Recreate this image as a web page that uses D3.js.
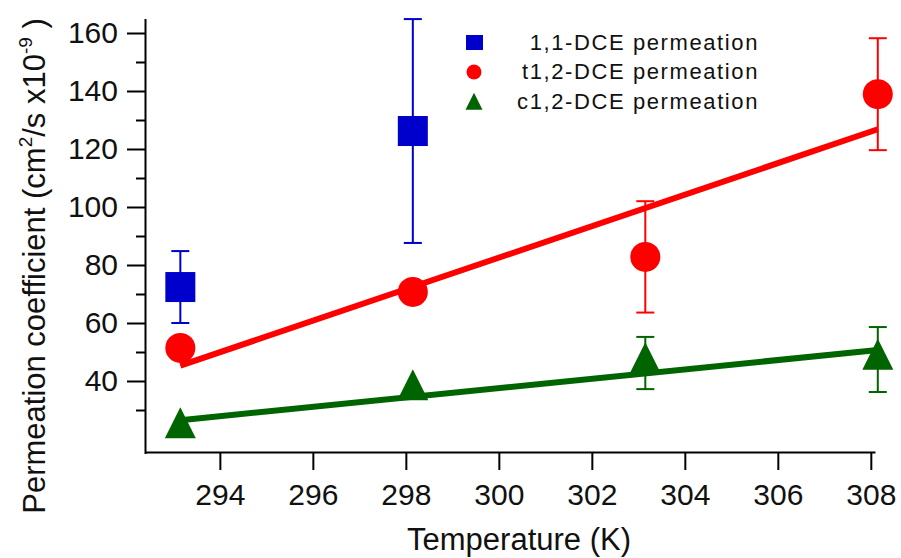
<!DOCTYPE html>
<html lang="en">
  <head>
    <meta charset="UTF-8" />
    <title>Permeation coefficient</title>
    <style>
      body { margin: 0; background: #fff; }
      svg { display: block; font-family: "Liberation Sans", Arial, sans-serif; }
      .axis path, .axis line { stroke: #000; stroke-width: 2; }
      .axis text { fill: #111; font-size: 30px; }
      .fit { fill: none; stroke-width: 6; }
      .err { stroke-width: 2; }
    </style>
  </head>
  <body>
    <script src="https://d3js.org/d3.v7.min.js"></script>
    <script>
      // temperatures (K)
      const temps = [293.15, 298.15, 303.15, 308.15];

      // 1,1-DCE (only two temperatures)
      const dce11Temps = [293.15, 298.15];
      const dce11 = [72.4, 126.2];
      const dce11Err = [12.4, 38.6];

      // t1,2-DCE
      const t12 = [51.4, 70.7, 82.8, 138.9];
      const t12Err = [0, 0, 19.2, 19.3];

      // c1,2-DCE
      const c12 = [23.8, 36.9, 46.2, 47.4];
      const c12Err = [0, 0, 9.0, 11.2];

      // linear fits
      const fitTemps = [293.15, 308.15];
      const t12Fit = [45.3, 126.8];
      const c12Fit = [26.5, 50.7];

      const xTicks = [294, 296, 298, 300, 302, 304, 306, 308];
      const yTicks = [40, 60, 80, 100, 120, 140, 160];
      const yMinor = [30, 50, 70, 90, 110, 130, 150];

      const legendNames = ["1,1-DCE permeation", "t1,2-DCE permeation", "c1,2-DCE permeation"];

      const blue = "#0000cc", red = "#ff0000", green = "#006400";

      const width = 901, height = 558;
      const svg = d3.select("body").append("svg")
        .attr("width", width).attr("height", height);

      const x = d3.scaleLinear().domain([292.39, 308.09]).range([145, 875]);
      const y = d3.scaleLinear().domain([15, 165]).range([453.5, 18.5]);

      // axes
      svg.append("g")
        .attr("class", "axis")
        .attr("transform", "translate(0,452)")
        .call(d3.axisBottom(x).tickValues(xTicks).tickSize(18).tickSizeOuter(0).tickPadding(14).tickFormat(d3.format("d")));

      svg.append("g")
        .attr("class", "axis")
        .attr("transform", "translate(145,0)")
        .call(d3.axisLeft(y).tickValues(yTicks).tickSize(18).tickSizeOuter(0).tickPadding(9).tickFormat(d3.format("d")));

      svg.append("g")
        .attr("class", "axis")
        .attr("transform", "translate(145,0)")
        .call(d3.axisLeft(y).tickValues(yMinor).tickSize(9).tickSizeOuter(0).tickFormat(""))
        .select(".domain").remove();

      // axis titles
      svg.append("text")
        .attr("x", 519).attr("y", 550)
        .attr("text-anchor", "middle")
        .style("font-size", "31px").style("fill", "#111")
        .text("Temperature (K)");

      const yt = svg.append("text")
        .attr("transform", "translate(45,266) rotate(-90)")
        .attr("text-anchor", "middle")
        .style("font-size", "31px").style("fill", "#111");
      yt.append("tspan").text("Permeation coefficient (cm");
      yt.append("tspan").attr("dy", -13).style("font-size", "19px").text("2");
      yt.append("tspan").attr("dy", 13).text("/s x10");
      yt.append("tspan").attr("dy", -13).style("font-size", "19px").text("-9");
      yt.append("tspan").attr("dy", 13).text(" )");

      // fit lines
      const line = d3.line().x(d => x(d[0])).y(d => y(d[1]));
      svg.append("path").attr("class", "fit").attr("stroke", red)
        .attr("d", line(d3.zip(fitTemps, t12Fit)));
      svg.append("path").attr("class", "fit").attr("stroke", green)
        .attr("d", line(d3.zip(fitTemps, c12Fit)));

      function errorBars(xs, vs, es, color) {
        const g = svg.append("g").attr("stroke", color).attr("class", "err");
        xs.forEach((t, i) => {
          if (!es[i]) return;
          const cx = x(t), hi = y(vs[i] + es[i]), lo = y(vs[i] - es[i]);
          g.append("line").attr("x1", cx).attr("x2", cx).attr("y1", hi).attr("y2", lo);
          g.append("line").attr("x1", cx - 9).attr("x2", cx + 9).attr("y1", hi).attr("y2", hi);
          g.append("line").attr("x1", cx - 9).attr("x2", cx + 9).attr("y1", lo).attr("y2", lo);
        });
      }
      errorBars(dce11Temps, dce11, dce11Err, blue);
      errorBars(temps, t12, t12Err, red);
      errorBars(temps, c12, c12Err, green);

      const tri = s => `M0,${-s * 2 / 3}L${s / 2},${s / 3}L${-s / 2},${s / 3}Z`;

      svg.append("g").selectAll("rect").data(d3.zip(dce11Temps, dce11)).join("rect")
        .attr("x", d => x(d[0]) - 15).attr("y", d => y(d[1]) - 15)
        .attr("width", 30).attr("height", 30).attr("fill", blue);

      svg.append("g").selectAll("circle").data(d3.zip(temps, t12)).join("circle")
        .attr("cx", d => x(d[0])).attr("cy", d => y(d[1])).attr("r", 15).attr("fill", red);

      svg.append("g").selectAll("path").data(d3.zip(temps, c12)).join("path")
        .attr("transform", d => `translate(${x(d[0])},${y(d[1])})`)
        .attr("d", tri(31)).attr("fill", green);

      // legend
      const lg = svg.append("g");
      const rows = [43, 72, 102];
      lg.append("rect").attr("x", 466).attr("y", rows[0] - 8).attr("width", 17).attr("height", 15).attr("fill", blue);
      lg.append("circle").attr("cx", 474).attr("cy", rows[1]).attr("r", 7.5).attr("fill", red);
      lg.append("path").attr("transform", `translate(474,${rows[2] + 2})`).attr("d", tri(17)).attr("fill", green);
      lg.selectAll("text").data(legendNames).join("text")
        .attr("x", 759).attr("y", (d, i) => rows[i] + 7)
        .attr("text-anchor", "end")
        .style("font-size", "22px").style("letter-spacing", "1.6px").style("fill", "#111")
        .text(d => d);
    </script>
  </body>
</html>
